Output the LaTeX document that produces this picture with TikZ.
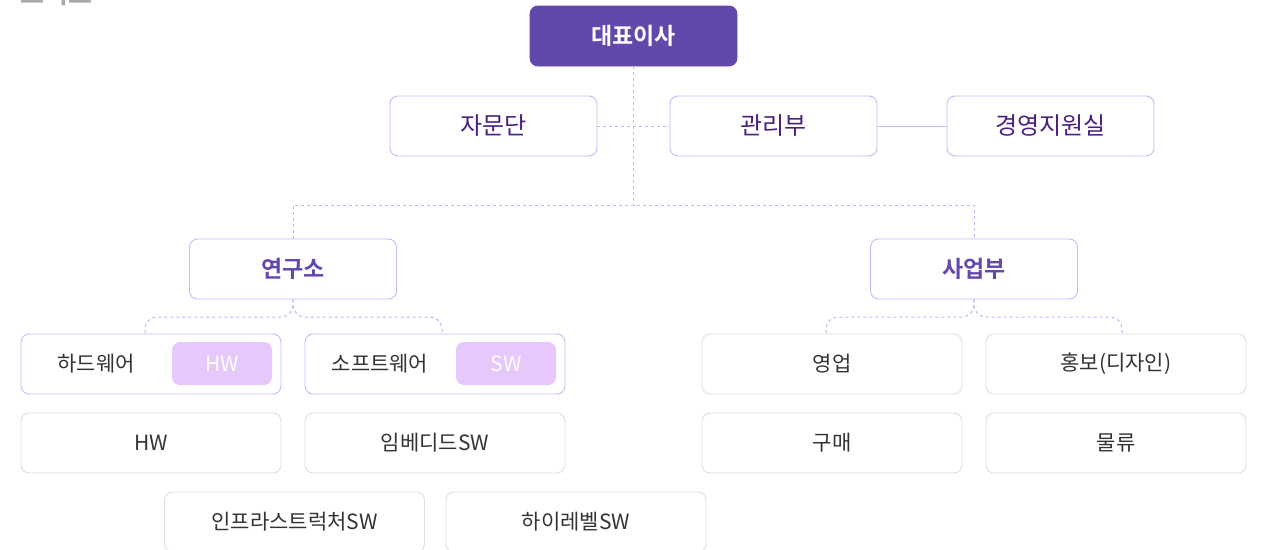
\documentclass[tikz,border=0pt]{standalone}
\usepackage{fontspec}
\setmainfont{Noto Sans CJK KR}
\newfontfamily\krbold{Noto Sans CJK KR Bold}
\definecolor{ceofill}{HTML}{6248AA}
\definecolor{lpurple}{HTML}{C7B8FA}
\definecolor{dpurple}{HTML}{4A1F80}
\definecolor{mpurple}{HTML}{6547AE}
\definecolor{gborder}{HTML}{DEDEDE}
\definecolor{gtext}{HTML}{333333}
\definecolor{pill}{HTML}{E6C8FD}
\definecolor{dashc}{HTML}{C2B3F9}
\definecolor{titleg}{HTML}{A8A8A8}
\begin{document}
\begin{tikzpicture}[x=1pt,y=-1pt,
  box/.style={draw, rounded corners=8pt, minimum width=207pt, minimum height=60pt, inner sep=0pt, line width=0.9pt, fill=white},
  ceobox/.style={box, draw=ceofill, fill=ceofill, text=white, font=\krbold\fontsize{23}{27}\selectfont},
  topbox/.style={box, draw=lpurple, text=dpurple, font=\fontsize{24}{28}\selectfont},
  divbox/.style={box, draw=lpurple, text=mpurple, font=\krbold\fontsize{23}{27}\selectfont},
  subbox/.style={box, minimum width=260pt, draw=lpurple},
  leafbox/.style={box, minimum width=260pt, draw=gborder, text=gtext, font=\fontsize{21}{25}\selectfont},
  lbl/.style={text=gtext, font=\fontsize{21}{25}\selectfont, inner sep=0pt},
  pillbox/.style={fill=pill, rounded corners=8pt, minimum width=100pt, minimum height=43pt, inner sep=0pt, text=white, font=\fontsize{21}{25}\selectfont},
  conn/.style={draw=dashc, line width=1pt, dash pattern=on 3pt off 3pt},
  solidconn/.style={draw=lpurple, line width=1pt},
  branch/.style={conn, rounded corners=12pt}
]
\useasboundingbox (0,0) rectangle (1261,549);
\node[text=titleg, font=\krbold\fontsize{26}{30}\selectfont, anchor=base west, inner sep=0pt] (title) at (20,3) {조직도};

\node[ceobox] (ceo) at (633.5,36) {대표이사};
\node[topbox] (adv) at (493.5,126) {자문단};
\node[topbox] (mgmt) at (773.5,126) {관리부};
\node[topbox] (sup) at (1050.5,126) {경영지원실};
\node[divbox] (lab) at (293,269) {연구소};
\node[divbox] (biz) at (974,269) {사업부};

\node[subbox] (hwg) at (151,364) {};
\node[lbl, anchor=center] (hwlbl) at (96,364) {하드웨어};
\node[pillbox] (hwpill) at (222,363.5) {HW};
\node[subbox] (swg) at (435,364) {};
\node[lbl, anchor=center] (swlbl) at (380,364) {소프트웨어};
\node[pillbox] (swpill) at (506,363.5) {SW};

\node[leafbox] (hw) at (151,443) {HW};
\node[leafbox] (emb) at (435,443) {임베디드SW};
\node[leafbox] (infra) at (294.5,522) {인프라스트럭처SW};
\node[leafbox] (high) at (576,522) {하이레벨SW};

\node[leafbox] (sales) at (832,364) {영업};
\node[leafbox] (pr) at (1116,364) {홍보(디자인)};
\node[leafbox] (buy) at (832,443) {구매};
\node[leafbox] (log) at (1116,443) {물류};

\coordinate (hub) at (633.5,205);
\coordinate (hwin) at (145,334);
\coordinate (swin) at (442,334);
\coordinate (salesin) at (826,334);
\coordinate (prin) at (1122,334);

\draw[conn] (adv.east) -- (mgmt.west);
\draw[solidconn] (mgmt.east) -- (sup.west);
\draw[conn] (ceo.south) -- (hub);
\draw[conn] (lab.north) |- (hub) -| (biz.north);
\draw[branch] (lab.south) |- (hwin |- 0,317) -- (hwin);
\draw[branch] (lab.south) |- (swin |- 0,317) -- (swin);
\draw[branch] (biz.south) |- (salesin |- 0,317) -- (salesin);
\draw[branch] (biz.south) |- (prin |- 0,317) -- (prin);
\end{tikzpicture}
\end{document}
